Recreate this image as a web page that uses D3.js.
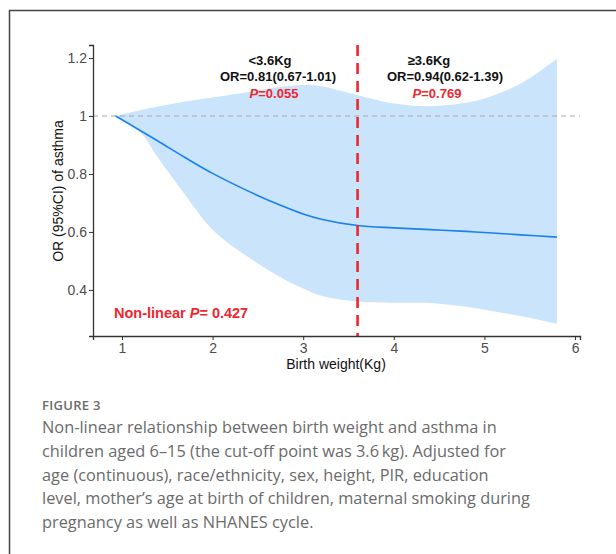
<!DOCTYPE html>
<html><head><meta charset="utf-8">
<script src="https://cdn.jsdelivr.net/npm/d3@7"></script>
<style>body{margin:0;background:#fff}svg{display:block}</style>
</head><body>
<svg id="c" width="616" height="554"></svg>
<script>
// ---- data ----
const birthWeight = [0.93, 1.2, 1.4, 1.7, 2.0, 2.4, 2.75, 3.0, 3.2, 3.6, 4.0, 4.4, 4.8, 5.0, 5.4, 5.8];
const orValues    = [1.0, 0.95, 0.913, 0.856, 0.802, 0.74, 0.692, 0.662, 0.644, 0.622, 0.614, 0.608, 0.602, 0.598, 0.590, 0.582];
const upperCI     = [1.0, 1.02, 1.033, 1.05, 1.064, 1.083, 1.100, 1.107, 1.103, 1.072, 1.043, 1.034, 1.046, 1.060, 1.112, 1.197];
const lowerCI     = [1.0, 0.945, 0.855, 0.727, 0.608, 0.512, 0.444, 0.405, 0.380, 0.360, 0.356, 0.355, 0.342, 0.332, 0.310, 0.283];
const xTicks = [1, 2, 3, 4, 5, 6];
const yTicks = [0.4, 0.6, 0.8, 1.0, 1.2];
const yTickLabels = ["0.4", "0.6", "0.8", "1", "1.2"];
const cutoff = 3.6;
const refOR = 1;
const leftAnn = ["<3.6Kg", "OR=0.81(0.67-1.01)", "0.055"];
const rightAnn = ["\u22653.6Kg", "OR=0.94(0.62-1.39)", "0.769"];
const nonLinearP = "0.427";
const captionTitle = "FIGURE 3";
const captionLines = [
  "Non-linear relationship between birth weight and asthma in",
  "children aged 6\u201315 (the cut-off point was 3.6\u2009kg). Adjusted for",
  "age (continuous), race/ethnicity, sex, height, PIR, education",
  "level, mother\u2019s age at birth of children, maternal smoking during",
  "pregnancy as well as NHANES cycle."
];

const svg = d3.select("#c");
const data = birthWeight.map((x, i) => ({x, or: orValues[i], lo: lowerCI[i], hi: upperCI[i]}));

// frame
svg.append("path").attr("d", "M9.5,554 L9.5,10.5 L616,10.5")
  .attr("fill", "none").attr("stroke", "#444").attr("stroke-width", 1.5);

const x = d3.scaleLinear().domain([0.68, 6.055]).range([93, 580]);
const y = d3.scaleLinear().domain([0.241, 1.245]).range([336, 45]);

const AF = "'Liberation Sans', Arial, sans-serif";

// band
svg.append("path").datum(data)
  .attr("d", d3.area().x(d => x(d.x)).y0(d => y(d.lo)).y1(d => y(d.hi)).curve(d3.curveCatmullRom))
  .attr("fill", "#c9e4fb");

// reference line
svg.append("line").attr("x1", x.range()[0]).attr("x2", x.range()[1])
  .attr("y1", y(refOR)).attr("y2", y(refOR))
  .attr("stroke", "#aaa").attr("stroke-width", 1).attr("stroke-dasharray", "5,4");

// OR curve
svg.append("path").datum(data)
  .attr("d", d3.line().x(d => x(d.x)).y(d => y(d.or)).curve(d3.curveCatmullRom))
  .attr("fill", "none").attr("stroke", "#1a80f0").attr("stroke-width", 1.6);

// cutoff line
svg.append("line").attr("x1", x(cutoff)).attr("x2", x(cutoff))
  .attr("y1", 45).attr("y2", 336)
  .attr("stroke", "#f0262e").attr("stroke-width", 2.6).attr("stroke-dasharray", "11,7");

// axes
const xAxis = svg.append("g").attr("transform", "translate(0,336)")
  .call(d3.axisBottom(x).tickValues(xTicks).tickSize(4).tickPadding(3).tickFormat(d3.format("d")));
const yAxis = svg.append("g").attr("transform", "translate(93,0)")
  .call(d3.axisLeft(y).tickValues(yTicks).tickSize(4).tickPadding(2).tickFormat((d, i) => yTickLabels[i]));
[xAxis, yAxis].forEach(g => {
  g.select(".domain").attr("stroke", "#333").attr("stroke-width", 1.3);
  g.selectAll(".tick line").attr("stroke", "#333");
  g.selectAll(".tick text").attr("fill", "#4d4d4d").style("font", "14px " + AF);
});

svg.append("text").attr("x", 336).attr("y", 369).attr("text-anchor", "middle")
  .style("font", "14px " + AF).attr("fill", "#111").text("Birth weight(Kg)");
svg.append("text").attr("transform", "translate(63,191) rotate(-90)").attr("text-anchor", "middle")
  .style("font", "14px " + AF).attr("fill", "#111").text("OR (95%CI) of asthma");

// annotations
function ann(cx1, cx2, cx3, arr) {
  svg.append("text").attr("x", cx1).attr("y", 65).attr("text-anchor", "middle")
    .style("font", "bold 13px " + AF).attr("fill", "#111").text(arr[0]);
  svg.append("text").attr("x", cx2).attr("y", 81).attr("text-anchor", "middle")
    .style("font", "bold 13px " + AF).attr("fill", "#111").text(arr[1]);
  const t = svg.append("text").attr("x", cx3).attr("y", 98).attr("text-anchor", "middle")
    .style("font", "bold 13px " + AF).attr("fill", "#f0262e");
  t.append("tspan").attr("font-style", "italic").text("P");
  t.append("tspan").text("=" + arr[2]);
}
ann(270, 278, 274, leftAnn);
ann(429, 445, 437, rightAnn);

const nl = svg.append("text").attr("x", 114).attr("y", 318)
  .style("font", "bold 14.5px " + AF).attr("fill", "#f0262e");
nl.append("tspan").text("Non-linear ");
nl.append("tspan").attr("font-style", "italic").text("P");
nl.append("tspan").text("= " + nonLinearP);

// caption
const CF = "'Open Sans', Lato, sans-serif";
svg.append("text").attr("x", 42).attr("y", 410)
  .style("font", "600 13px " + CF).attr("fill", "#6b6b6b").attr("letter-spacing", "0.3").text(captionTitle);
const lineY = [433, 457, 481, 504, 528];
let fs = 16;
captionLines.forEach((s, i) => {
  const t = svg.append("text").attr("class", "cap").attr("x", 42).attr("y", lineY[i])
    .style("font", "400 16px " + CF).attr("fill", "#6b6b6b").text(s);
  if (i === 0) fs = 16 * 455 / t.node().getComputedTextLength();
});
svg.selectAll("text.cap").style("font-size", fs + "px");
</script>
</body></html>
